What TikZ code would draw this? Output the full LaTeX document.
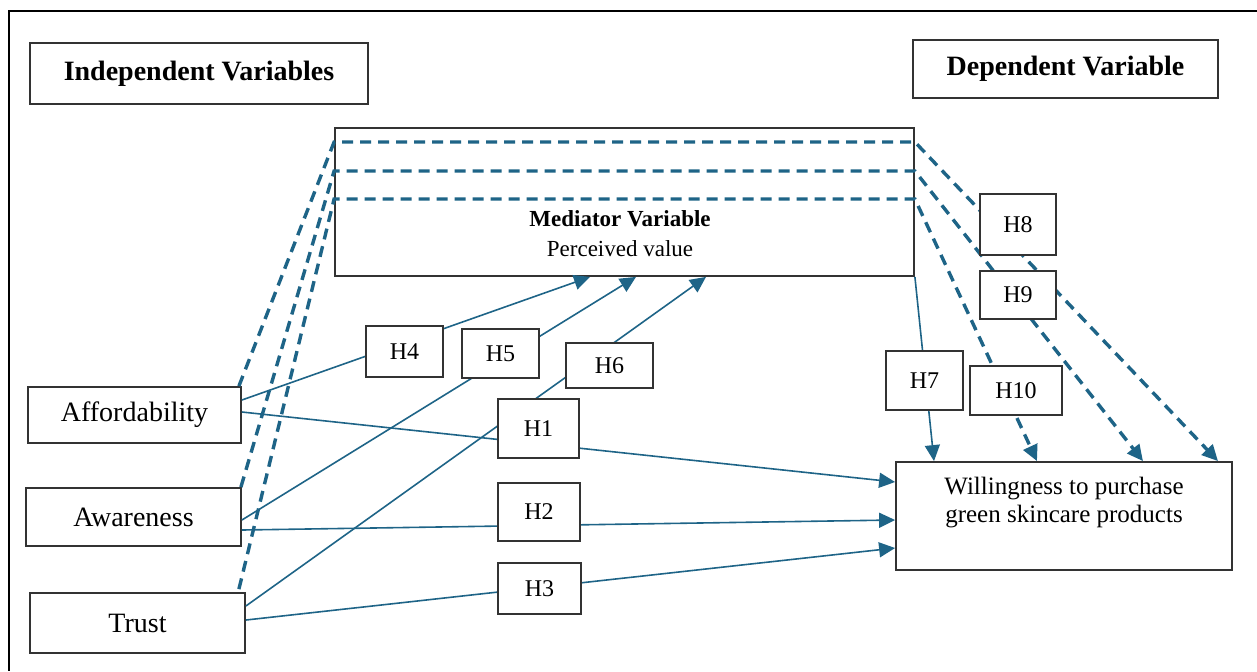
\documentclass[tikz,border=0pt]{standalone}
\usepackage{fontspec}
\setmainfont{Liberation Serif}
\usetikzlibrary{positioning, arrows.meta}
\definecolor{linkblue}{RGB}{30,100,135}

\begin{document}
\begin{tikzpicture}[x=0.5pt, y=-0.5pt,
        box/.style={draw=black!80, line width=0.9pt, fill=white, inner sep=0pt, font=\fontsize{14}{17}\selectfont},
        hbox/.style={box, font=\fontsize{12}{14}\selectfont},
        link/.style={linkblue, line width=0.8pt, -{Triangle[length=8pt, width=7.5pt]}},
        medlink/.style={link, line width=1.7pt, dash pattern=on 5.5pt off 3.5pt}]
            \useasboundingbox (0,0) rectangle (1257,671);
            \draw [line width=1pt] (1257,11) -- (9,11) -- (9,671);

            % headings
            \node [box, minimum width=169pt, minimum height=30.5pt] (IVName) at (199,73.5) {\textbf{Independent Variables}};
            \node [box, minimum width=152.5pt, minimum height=29pt] (DVName) at (1065.5,69) {\textbf{Dependent Variable}};

            \node [box, minimum width=289.5pt, minimum height=74pt] (Med) at (624.5,202) {};
            \node [align=center, font=\fontsize{11.5}{15}\selectfont] (MedText) at (620,234) {\textbf{Mediator Variable}\\Perceived value};

            \node [box, minimum width=106.5pt, minimum height=28pt] (Aff) at (134.5,415) {Affordability};
            \node [box, minimum width=107.5pt, minimum height=29pt] (Awa) at (133.5,517) {Awareness};
            \node [box, minimum width=107.5pt, minimum height=30pt] (Tru) at (137.5,623) {Trust};

            \node [box, minimum width=168pt, minimum height=54pt] (Will) at (1064,516) {};
            \node [align=center, font=\fontsize{12.5}{14}\selectfont] (WillText) at (1064,503) {Willingness to purchase\\green skincare products};

            % direct and mediated paths
            \draw [link] ([yshift=7.5pt]Aff.east) -- ([xshift=-17.25pt]Med.south);
            \draw [link] ([yshift=-1.5pt]Awa.east) -- ([xshift=5.75pt]Med.south);
            \draw [link] ([yshift=8.5pt]Tru.east) -- ([xshift=40.75pt]Med.south);
            \draw [link] ([yshift=1.5pt]Aff.east) -- ([yshift=17pt]Will.west);
            \draw [link] ([yshift=-6.5pt]Awa.east) -- ([yshift=-2pt]Will.west);
            \draw [link] ([yshift=1.5pt]Tru.east) -- ([yshift=-16pt]Will.west);
            \draw [link] (Med.south east) -- ([xshift=-65pt]Will.north);

            \draw [medlink] ([xshift=-1.5pt]Aff.north east) -- ([yshift=30pt]Med.west)
                -- ([yshift=30pt]Med.east) -- ([xshift=77pt]Will.north);
            \draw [medlink] ([xshift=-0.5pt]Awa.north east) -- ([yshift=15.5pt]Med.west)
                -- ([yshift=15.5pt]Med.east) -- ([xshift=39.5pt]Will.north);
            \draw [medlink] ([xshift=-3.5pt, yshift=1.5pt]Tru.north east) -- ([yshift=1.5pt]Med.west)
                -- ([yshift=1.5pt]Med.east) -- ([xshift=-13.5pt]Will.north);

            % hypothesis labels
            \node [hbox, minimum width=38.5pt, minimum height=25.5pt] (H4) at (404.5,351.5) {H4};
            \node [hbox, minimum width=38.5pt, minimum height=24.5pt] (H5) at (500.5,353.5) {H5};
            \node [hbox, minimum width=43.5pt, minimum height=22.5pt] (H6) at (609.5,365.5) {H6};
            \node [hbox, minimum width=40.5pt, minimum height=29.5pt] (H1) at (538.5,428.5) {H1};
            \node [hbox, minimum width=41pt, minimum height=29pt] (H2) at (539,512) {H2};
            \node [hbox, minimum width=41.5pt, minimum height=25.5pt] (H3) at (539.5,588.5) {H3};
            \node [hbox, minimum width=38.5pt, minimum height=29.5pt] (H7) at (924.5,380.5) {H7};
            \node [hbox, minimum width=38pt, minimum height=30.5pt] (H8) at (1018,224.5) {H8};
            \node [hbox, minimum width=38pt, minimum height=24pt] (H9) at (1018,295) {H9};
            \node [hbox, minimum width=46pt, minimum height=24.5pt] (H10) at (1016,390.5) {H10};

\end{tikzpicture}
\end{document}
